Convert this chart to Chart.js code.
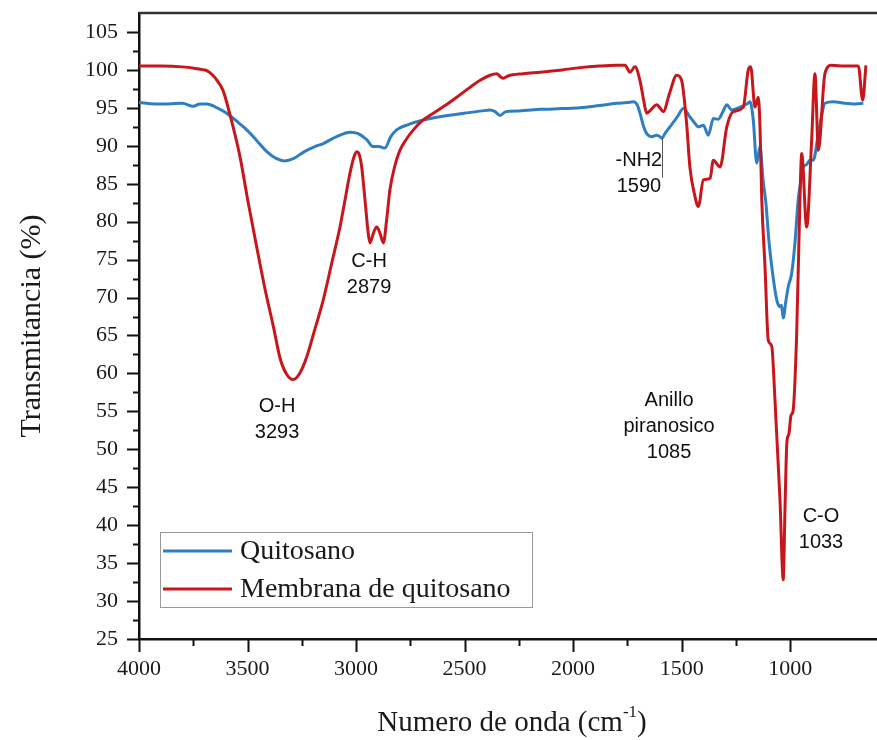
<!DOCTYPE html>
<html>
<head>
<meta charset="utf-8">
<script src="https://cdn.jsdelivr.net/npm/chart.js@4.4.0/dist/chart.umd.min.js"></script>
<style>
  html, body { margin: 0; padding: 0; background: #fff; }
  canvas { display: block; }
</style>
</head>
<body>
<canvas id="ftir" width="877" height="740"></canvas>
<script>
// FTIR spectra, wavenumber (cm-1) against transmittance (%)
const quitosanoWn = [4000, 3900, 3800, 3750, 3720, 3688, 3640, 3596, 3540, 3500, 3458, 3410, 3366, 3330, 3289, 3240, 3190, 3151, 3090, 3028, 2990, 2951, 2921, 2895, 2867, 2840, 2813, 2760, 2690, 2600, 2500, 2420, 2383, 2360, 2337, 2310, 2250, 2150, 2050, 1968, 1880, 1800, 1750, 1723, 1705, 1692, 1675, 1661, 1638, 1615, 1600, 1592, 1575, 1554, 1520, 1492, 1462, 1440, 1423, 1400, 1377, 1354, 1331, 1310, 1292, 1269, 1231, 1200, 1185, 1170, 1154, 1139, 1125, 1112, 1098, 1085, 1062, 1047, 1040, 1032, 1020, 1009, 993, 978, 963, 950, 940, 925, 909, 894, 870, 855, 840, 801, 750, 700, 663];
const quitosanoT = [95.7, 95.5, 95.6, 95.2, 95.5, 95.5, 95.0, 94.3, 93.0, 92.0, 90.7, 89.2, 88.3, 88.0, 88.3, 89.2, 89.9, 90.3, 91.2, 91.8, 91.6, 90.8, 89.9, 89.9, 89.7, 91.2, 92.1, 92.8, 93.4, 93.9, 94.3, 94.6, 94.7, 94.5, 94.0, 94.5, 94.6, 94.8, 94.9, 95.0, 95.3, 95.6, 95.7, 95.8, 95.4, 94.3, 92.5, 91.6, 91.2, 91.4, 91.2, 91.0, 91.7, 92.5, 93.8, 94.9, 93.8, 93.0, 92.5, 92.7, 91.4, 93.6, 93.5, 94.5, 95.4, 94.7, 95.1, 95.5, 95.8, 93.4, 87.7, 89.9, 85.5, 82.5, 77.5, 74.1, 69.7, 68.8, 69.0, 67.3, 69.5, 71.4, 73.2, 77.2, 82.9, 85.5, 87.2, 87.5, 88.1, 88.1, 91.6, 94.0, 95.6, 95.8, 95.6, 95.5, 95.6];

const membranaWn = [4000, 3900, 3800, 3740, 3700, 3688, 3660, 3640, 3613, 3580, 3535, 3500, 3458, 3420, 3381, 3350, 3320, 3289, 3260, 3227, 3190, 3151, 3110, 3074, 3050, 3028, 3010, 2997, 2985, 2974, 2959, 2944, 2936, 2920, 2905, 2890, 2874, 2860, 2844, 2820, 2798, 2770, 2736, 2700, 2644, 2590, 2536, 2480, 2430, 2383, 2352, 2335, 2322, 2300, 2230, 2150, 2050, 1968, 1880, 1800, 1761, 1738, 1715, 1692, 1675, 1661, 1640, 1615, 1600, 1585, 1555, 1523, 1500, 1477, 1462, 1440, 1423, 1400, 1369, 1354, 1323, 1292, 1262, 1216, 1193, 1182, 1162, 1147, 1139, 1131, 1116, 1101, 1085, 1070, 1047, 1032, 1024, 1015, 1006, 996, 987, 970, 955, 947, 924, 901, 886, 870, 840, 809, 750, 686, 666, 651];
const membranaT = [100.5, 100.5, 100.4, 100.2, 100.0, 99.9, 99.3, 98.6, 97.3, 94.0, 88.6, 83.0, 76.7, 71.2, 66.2, 62.0, 59.9, 59.2, 60.0, 62.2, 65.8, 69.7, 74.8, 79.3, 83.0, 86.4, 88.5, 89.2, 88.8, 87.2, 82.9, 78.5, 77.2, 78.5, 79.3, 78.5, 77.2, 80.0, 84.2, 87.5, 89.4, 90.8, 92.1, 93.2, 94.3, 95.3, 96.4, 97.6, 98.6, 99.3, 99.5, 99.1, 98.9, 99.2, 99.5, 99.7, 100.0, 100.3, 100.5, 100.6, 100.6, 99.7, 100.4, 98.6, 96.0, 94.3, 94.8, 95.4, 95.0, 94.5, 97.0, 99.3, 98.6, 92.9, 87.2, 83.5, 82.0, 85.5, 85.7, 88.1, 87.2, 92.5, 94.5, 95.1, 100.0, 100.4, 95.1, 96.4, 92.5, 83.0, 74.1, 64.4, 63.6, 56.5, 43.4, 32.8, 42.0, 51.0, 52.0, 54.5, 55.0, 65.3, 82.9, 89.0, 79.3, 90.8, 99.5, 89.4, 99.5, 100.6, 100.5, 100.5, 96.0, 100.6];

const seriesLabels = ['Quitosano', 'Membrana de quitosano'];

// band assignments written on the plot (anchor in wavenumber / transmittance)
const bandNotes = [
  { wn: 3364, t: 55.7, lines: ['O-H', '3293'] },
  { wn: 2940, t: 74.7, lines: ['C-H', '2879'] },
  { wn: 1697, t: 88.0, lines: ['-NH2', '1590'] },
  { wn: 1558, t: 56.4, lines: ['Anillo', 'piranosico', '1085'] },
  { wn: 858, t: 41.1, lines: ['C-O', '1033'] }
];
const nh2Marker = { wn: 1590, from: 91.0, to: 85.8 };

const COLORS = ['#2f7ec2', '#c8171c'];
const SERIF = '"Liberation Serif", "Times New Roman", serif';
const SANS = '"Liberation Sans", Arial, sans-serif';

function toPoints(xs, ys) {
  return xs.map((x, i) => ({ x: x, y: ys[i] }));
}

const decor = {
  id: 'decor',
  beforeDraw(chart) {
    const ctx = chart.ctx;
    ctx.save();
    ctx.fillStyle = '#fff';
    ctx.fillRect(0, 0, chart.width, chart.height);
    ctx.restore();
  },
  afterDraw(chart) {
    const ctx = chart.ctx;
    const area = chart.chartArea;
    const xs = chart.scales.x, ys = chart.scales.y;
    ctx.save();

    // frame top edge
    ctx.strokeStyle = '#333';
    ctx.lineWidth = 2.5;
    ctx.beginPath();
    ctx.moveTo(area.left, area.top);
    ctx.lineTo(area.right, area.top);
    ctx.stroke();

    // outward tick marks, long on labelled values
    ctx.strokeStyle = '#111';
    ctx.lineWidth = 2;
    ctx.beginPath();
    xs.ticks.forEach(t => {
      const px = Math.round(xs.getPixelForValue(t.value)) + 0.5;
      const len = t.value % 500 === 0 ? 13 : 7;
      ctx.moveTo(px, area.bottom);
      ctx.lineTo(px, area.bottom + len);
    });
    ys.ticks.forEach(t => {
      const py = Math.round(ys.getPixelForValue(t.value)) + 0.5;
      const len = t.value % 5 === 0 ? 12 : 6;
      ctx.moveTo(area.left - len, py);
      ctx.lineTo(area.left, py);
    });
    ctx.stroke();

    // band labels
    ctx.fillStyle = '#111';
    ctx.font = '20px ' + SANS;
    ctx.textAlign = 'center';
    ctx.textBaseline = 'middle';
    bandNotes.forEach(n => {
      const px = xs.getPixelForValue(n.wn);
      const py = ys.getPixelForValue(n.t);
      n.lines.forEach((s, i) => ctx.fillText(s, px, py + i * 26));
    });

    // -NH2 marker
    ctx.strokeStyle = '#555';
    ctx.lineWidth = 1;
    const mx = Math.round(xs.getPixelForValue(nh2Marker.wn)) + 0.5;
    ctx.beginPath();
    ctx.moveTo(mx, ys.getPixelForValue(nh2Marker.from));
    ctx.lineTo(mx, ys.getPixelForValue(nh2Marker.to));
    ctx.stroke();

    // legend box
    const lx = area.left + 21, ly = area.bottom - 107, lw = 372, lh = 75;
    ctx.strokeStyle = '#9a9a9a';
    ctx.lineWidth = 1;
    ctx.strokeRect(lx + 0.5, ly + 0.5, lw, lh);
    ctx.font = '28px ' + SERIF;
    ctx.textAlign = 'left';
    ctx.textBaseline = 'middle';
    chart.data.datasets.forEach((ds, i) => {
      const rowY = ly + 19 + i * 38;
      ctx.strokeStyle = ds.borderColor;
      ctx.lineWidth = 3;
      ctx.beginPath();
      ctx.moveTo(lx + 3, rowY);
      ctx.lineTo(lx + 72, rowY);
      ctx.stroke();
      ctx.fillStyle = '#1a1a1a';
      ctx.fillText(ds.label, lx + 80, rowY + 1);
    });

    // x axis title with superscript
    const main = 'Numero de onda (cm';
    const sup = '-1';
    const tail = ')';
    ctx.font = '29px ' + SERIF;
    const wMain = ctx.measureText(main).width;
    const wTail = ctx.measureText(tail).width;
    ctx.font = '17px ' + SERIF;
    const wSup = ctx.measureText(sup).width;
    const total = wMain + wSup + wTail;
    let tx = (area.left + area.right) / 2 - total / 2 + 4;
    const ty = 731;
    ctx.fillStyle = '#1a1a1a';
    ctx.textBaseline = 'alphabetic';
    ctx.font = '29px ' + SERIF;
    ctx.fillText(main, tx, ty);
    tx += wMain;
    ctx.font = '17px ' + SERIF;
    ctx.fillText(sup, tx, ty - 14);
    tx += wSup;
    ctx.font = '29px ' + SERIF;
    ctx.fillText(tail, tx, ty);

    ctx.restore();
  }
};

new Chart(document.getElementById('ftir'), {
  type: 'line',
  data: {
    datasets: [
      {
        label: seriesLabels[0],
        data: toPoints(quitosanoWn, quitosanoT),
        borderColor: COLORS[0],
        borderWidth: 3,
        pointRadius: 0,
        cubicInterpolationMode: 'monotone',
        order: 1
      },
      {
        label: seriesLabels[1],
        data: toPoints(membranaWn, membranaT),
        borderColor: COLORS[1],
        borderWidth: 3,
        pointRadius: 0,
        cubicInterpolationMode: 'monotone',
        order: 0
      }
    ]
  },
  options: {
    responsive: false,
    devicePixelRatio: 1,
    animation: false,
    layout: { padding: { top: 13, right: 0, left: 0, bottom: 0 } },
    plugins: {
      legend: { display: false },
      tooltip: { enabled: false }
    },
    scales: {
      x: {
        type: 'linear',
        reverse: true,
        min: 600,
        max: 4000,
        afterBuildTicks: s => { s.ticks = s.ticks.filter(t => t.value % 250 === 0); },
        afterFit: s => { s.height = 101; s.paddingLeft = 0; s.paddingRight = 0; },
        ticks: {
          stepSize: 250,
          autoSkip: false,
          maxRotation: 0,
          padding: 4,
          color: '#1a1a1a',
          font: { family: SERIF, size: 22 },
          callback: v => (v % 500 === 0 ? String(v) : '')
        },
        grid: { drawOnChartArea: false, drawTicks: true, tickLength: 13, tickColor: 'rgba(0,0,0,0)' },
        border: { color: '#111', width: 2.5 }
      },
      y: {
        min: 25,
        max: 107.5,
        afterBuildTicks: s => { s.ticks = s.ticks.filter(t => t.value % 2.5 === 0 && t.value < 107.5); },
        afterFit: s => { s.width = 139; s.paddingTop = 0; s.paddingBottom = 0; },
        ticks: {
          stepSize: 2.5,
          autoSkip: false,
          padding: 9,
          color: '#1a1a1a',
          font: { family: SERIF, size: 22 },
          callback: v => (v % 5 === 0 ? String(v) : '')
        },
        grid: { drawOnChartArea: false, drawTicks: true, tickLength: 12, tickColor: 'rgba(0,0,0,0)' },
        border: { color: '#111', width: 2.5 },
        title: {
          display: true,
          text: 'Transmitancia (%)',
          color: '#1a1a1a',
          font: { family: SERIF, size: 30 },
          padding: { top: 14, bottom: 0 }
        }
      }
    }
  },
  plugins: [decor]
});
</script>
</body>
</html>
